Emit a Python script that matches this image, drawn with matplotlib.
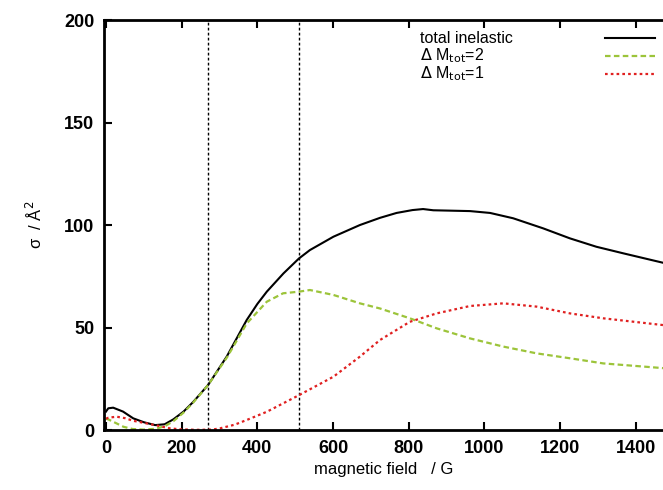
import matplotlib
matplotlib.use("Agg")
import matplotlib.pyplot as plt
from matplotlib.lines import Line2D

plt.rcParams['font.family'] = ['Liberation Sans', 'DejaVu Sans']

# total inelastic cross section
field_total = [0, 6, 19, 45, 72, 100, 130, 155, 178, 205, 231, 270, 319, 372, 400, 425, 469,
               510, 539, 601, 671, 724, 768, 810, 838, 865, 962, 1015, 1076, 1155, 1226,
               1296, 1367, 1472]
sigma_total = [9.0, 10.6, 10.9, 9.0, 5.7, 3.8, 2.4, 2.8, 5.2, 9.0, 13.8, 22.0, 35.8, 53.7,
               61.5, 67.5, 76.4, 83.7, 87.8, 94.3, 100.0, 103.5, 105.9, 107.3, 107.8, 107.2,
               106.8, 105.9, 103.3, 98.4, 93.5, 89.4, 86.2, 81.6]

# Delta M_tot = 2
field_m2 = [0, 6, 25, 46, 70, 100, 130, 155, 178, 205, 231, 270, 320, 372, 425, 468, 510,
            539, 601, 671, 724, 803, 874, 962, 1050, 1138, 1226, 1314, 1472]
sigma_m2 = [5.5, 5.2, 3.5, 1.6, 0.5, 0.2, 0.6, 1.8, 4.3, 8.5, 13.5, 22.0, 35.5, 52.0, 62.6,
            66.7, 67.5, 68.3, 65.9, 61.8, 59.3, 54.5, 49.6, 44.7, 40.7, 37.4, 35.0, 32.5, 30.2]

# Delta M_tot = 1
field_m1 = [0, 6, 28, 50, 72, 100, 130, 169, 200, 240, 280, 301, 340, 372, 425, 510, 601,
            671, 724, 803, 874, 962, 1050, 1138, 1226, 1314, 1472]
sigma_m1 = [5.5, 6.0, 6.5, 5.8, 4.5, 3.5, 2.4, 0.8, 0.3, 0.1, 0.2, 0.8, 2.6, 4.9, 8.9, 17.0,
            26.0, 35.8, 43.9, 52.8, 56.9, 60.5, 61.8, 60.2, 56.9, 54.5, 51.2]

marker_fields = [270, 510]

x_ticks = [0, 200, 400, 600, 800, 1000, 1200, 1400]
y_ticks = [0, 50, 100, 150, 200]

fig = plt.figure(figsize=(6.63, 4.9), dpi=100)
ax = fig.add_axes([0.157, 0.1224, 0.843, 0.8367])

for xv in marker_fields:
    ax.axvline(xv, color='black', lw=1.0, ls=(0, (2, 1.6)))

ax.plot(field_total, sigma_total, color='black', lw=1.5)
ax.plot(field_m2, sigma_m2, color='#9cc43a', lw=1.6, ls=(0, (2.5, 1.5)))
ax.plot(field_m1, sigma_m1, color='#e02020', lw=1.6, ls=(0, (1.2, 1.4)))

ax.set_xlim(-5, 1472)
ax.set_ylim(0, 200)
ax.set_xticks(x_ticks)
ax.set_yticks(y_ticks)

ax.spines['right'].set_visible(False)
for side in ['left', 'top', 'bottom']:
    ax.spines[side].set_linewidth(2)

ax.tick_params(direction='in', length=6, width=1.5, labelsize=13, pad=7,
               top=True, right=False)
for lbl in ax.get_xticklabels() + ax.get_yticklabels():
    lbl.set_fontweight('bold')

ax.set_xlabel('magnetic field   / G', fontsize=12)
ax.set_ylabel(r'σ  / Å$^2$', fontsize=12, labelpad=14)

# legend: text left-aligned, sample line on the right
labels = ['total inelastic', r'$\Delta$ M$_{\rm tot}$=2', r'$\Delta$ M$_{\rm tot}$=1']
styles = [dict(color='black', lw=1.5),
          dict(color='#9cc43a', lw=1.6, ls=(0, (2.5, 1.5))),
          dict(color='#e02020', lw=1.6, ls=(0, (1.2, 1.4)))]
rows = [0.956, 0.913, 0.869]
for lab, st, yy in zip(labels, styles, rows):
    ax.text(0.565, yy, lab, transform=ax.transAxes, fontsize=11.5, va='center', ha='left')
    ax.add_line(Line2D([0.896, 0.986], [yy, yy], transform=ax.transAxes, **st))

fig.savefig('out.png', dpi=100)
